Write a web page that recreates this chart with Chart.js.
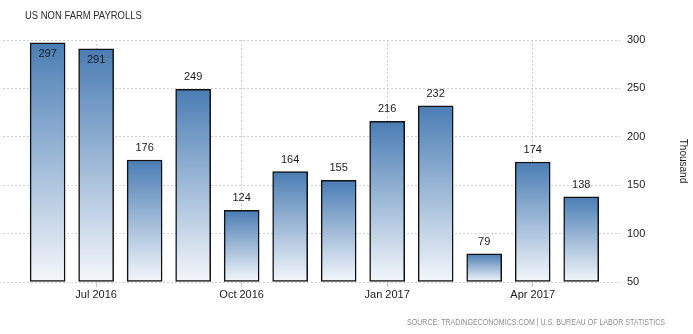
<!DOCTYPE html>
<html>
<head>
<meta charset="utf-8">
<script src="https://cdn.jsdelivr.net/npm/chart.js@4"></script>
<style>
  html, body { margin: 0; padding: 0; background: #fff; }
  #wrap { width: 693px; height: 334px; position: relative; }
</style>
</head>
<body>
<div id="wrap"><canvas id="nfpChart" width="693" height="334"></canvas></div>
<script>
// chart data
const months = ['Jun 2016', 'Jul 2016', 'Aug 2016', 'Sep 2016', 'Oct 2016', 'Nov 2016',
                'Dec 2016', 'Jan 2017', 'Feb 2017', 'Mar 2017', 'Apr 2017', 'May 2017'];
const payrolls = [297, 291, 176, 249, 124, 164, 155, 216, 232, 79, 174, 138];
const xTickLabels = ['Jul 2016', 'Oct 2016', 'Jan 2017', 'Apr 2017'];
const yTicks = [50, 100, 150, 200, 250, 300];

const chartTitle = 'US NON FARM PAYROLLS';
const sourceText = 'SOURCE: TRADINGECONOMICS.COM | U.S. BUREAU OF LABOR STATISTICS';

const FONT = "'Liberation Sans', Arial, sans-serif";

// gradient for each bar, dark blue at the top, almost white at the base
function barGradient(ctx) {
  const chart = ctx.chart;
  if (!chart.chartArea || ctx.dataIndex === undefined) return '#4a7db4';
  const y = chart.scales.y;
  const top = y.getPixelForValue(payrolls[ctx.dataIndex]);
  const bottom = y.getPixelForValue(yTicks[0]);
  const g = chart.ctx.createLinearGradient(0, top, 0, bottom);
  g.addColorStop(0, '#4a7db4');
  g.addColorStop(1, '#f4f7fb');
  return g;
}

// text drawn squeezed horizontally (the source font is a narrow one)
function fillNarrow(c, text, x, y, sx) {
  c.save();
  c.translate(x, y);
  c.scale(sx, 1);
  c.fillText(text, 0, 0);
  c.restore();
}

// value labels over the bars + title and source text
const textPlugin = {
  id: 'textPlugin',
  afterDatasetsDraw(chart) {
    const c = chart.ctx;
    const area = chart.chartArea;
    const meta = chart.getDatasetMeta(0);
    c.save();
    c.font = '11px ' + FONT;
    c.fillStyle = '#1a1a1a';
    c.textAlign = 'center';
    c.textBaseline = 'middle';
    meta.data.forEach((bar, i) => {
      let ly = bar.y - 12;
      if (ly < area.top + 6) ly = bar.y + 11; // no room above, put it inside
      c.fillText(String(payrolls[i]), bar.x, ly);
    });
    c.restore();
  },
  afterDraw(chart) {
    const c = chart.ctx;
    c.save();
    c.textBaseline = 'middle';
    c.fillStyle = '#2a2a2a';
    c.font = '10.5px ' + FONT;
    c.textAlign = 'left';
    fillNarrow(c, chartTitle, 25, 16, 0.9);
    c.fillStyle = '#8c8c8c';
    c.font = '8.5px ' + FONT;
    c.textAlign = 'right';
    fillNarrow(c, sourceText, 665, 323, 0.83);
    c.restore();
  }
};

new Chart(document.getElementById('nfpChart'), {
  type: 'bar',
  data: {
    datasets: [{
      data: payrolls.map((v, i) => ({ x: i, y: v })),
      base: yTicks[0],
      backgroundColor: barGradient,
      borderColor: '#111',
      borderWidth: 1.5,
      borderSkipped: false,
      barThickness: 35
    }]
  },
  options: {
    responsive: false,
    animation: false,
    layout: { padding: { left: 3, top: 40, right: 0, bottom: 0 } },
    plugins: {
      legend: { display: false },
      tooltip: { enabled: false }
    },
    scales: {
      x: {
        type: 'linear',
        offset: false,
        min: -0.92,
        max: 11.8,
        afterBuildTicks: (scale) => {
          scale.ticks = xTickLabels.map(l => ({ value: months.indexOf(l) }));
        },
        afterFit: (scale) => { scale.height = 52; },
        ticks: {
          autoSkip: false,
          maxRotation: 0,
          padding: 1,
          color: '#1a1a1a',
          font: { family: FONT, size: 11 },
          callback: (v) => months[v]
        },
        grid: { offset: false, color: '#d0d0d0', tickColor: '#c8c8c8', tickLength: 5 },
        border: { display: false, dash: [2, 2] }
      },
      y: {
        position: 'right',
        min: 50,
        max: 300,
        afterBuildTicks: (scale) => { scale.ticks = yTicks.map(v => ({ value: v })); },
        afterFit: (scale) => { scale.width = 73; },
        ticks: {
          padding: 7,
          color: '#1a1a1a',
          font: { family: FONT, size: 11 }
        },
        title: {
          display: true,
          text: 'Thousand',
          color: '#1a1a1a',
          font: { family: FONT, size: 10 },
          padding: { top: 4, bottom: 0 }
        },
        grid: { color: '#d0d0d0', drawTicks: false },
        border: { display: false, dash: [2, 2] }
      }
    }
  },
  plugins: [textPlugin]
});
</script>
</body>
</html>
